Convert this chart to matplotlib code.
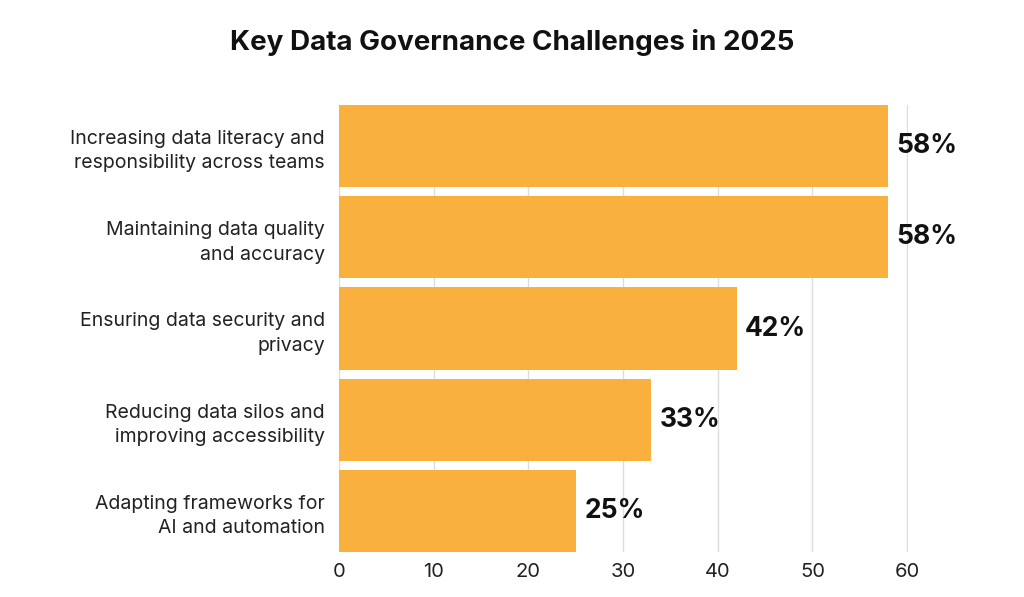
import matplotlib.pyplot as plt

categories = [
    "Increasing data literacy and\nresponsibility across teams",
    "Maintaining data quality\nand accuracy",
    "Ensuring data security and\nprivacy",
    "Reducing data silos and\nimproving accessibility",
    "Adapting frameworks for\nAI and automation",
]
values = [58, 58, 42, 33, 25]
ticks = [0, 10, 20, 30, 40, 50, 60]

plt.rcParams['font.family'] = ['Inter', 'DejaVu Sans']

fig = plt.figure(figsize=(10.24, 5.97), dpi=100)
ax = fig.add_axes([339 / 1024, 45 / 597, (908 - 339) / 1024, (552 - 105) / 597])

pos = list(range(len(values)))
bars = ax.barh(pos, values, height=0.9, color="#FAB03E", zorder=2)
ax.set_ylim(len(values) - 0.55, -0.45)
ax.set_xlim(0, 60.1)
ax.set_xticks(ticks)
ax.set_xticklabels([str(t) for t in ticks], fontsize=14.5, color="#222222")
ax.set_yticks(pos)
ax.set_yticklabels(categories, fontsize=14, color="#222222", linespacing=1.45)
ax.tick_params(length=0, axis="x", pad=8)
ax.tick_params(length=0, axis="y", pad=10)
ax.grid(axis="x", color="#DDDDDD", linewidth=1, zorder=0)
for s in ax.spines.values():
    s.set_visible(False)

for b, v in zip(bars, values):
    ax.text(v + 0.9, b.get_y() + b.get_height() / 2, f"{v}%", va="center", ha="left",
            fontsize=19, fontweight="bold", color="#111111", zorder=3, clip_on=False)

fig.text(0.5, 1 - 43 / 597, "Key Data Governance Challenges in 2025", ha="center", va="center",
         fontsize=20, fontweight="bold", color="#111111")

fig.savefig("out.png", dpi=100)
